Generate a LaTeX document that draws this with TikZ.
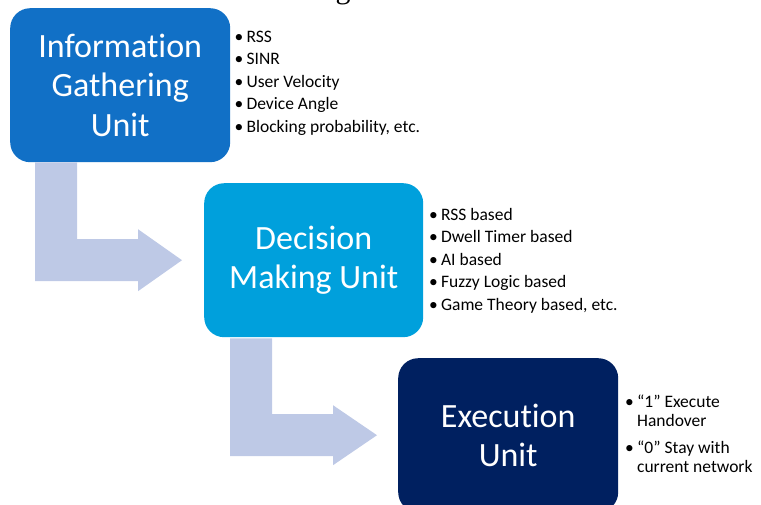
\documentclass[tikz,border=0pt]{standalone}
\usepackage{fontspec}
\setmainfont{Carlito}[Ligatures=NoCommon]
\newfontfamily\headserif{Liberation Serif}
\usetikzlibrary{calc}
\definecolor{gatherblue}{RGB}{17,112,198}
\definecolor{decideblue}{RGB}{0,160,220}
\definecolor{execnavy}{RGB}{0,32,96}
\definecolor{flowarrow}{RGB}{190,201,230}
\newcommand\listdot{\makebox[12pt][l]{\textbullet}}
\begin{document}
\begin{tikzpicture}[x=1pt,y=-1pt,
  unitbox/.style={rounded corners=20pt, minimum width=220pt, minimum height=154pt,
    inner sep=0pt, anchor=north west, align=center, text=white,
    font=\fontsize{34}{39.5}\selectfont},
  notes/.style={anchor=base west, inner sep=0pt, font=\fontsize{17.5}{22.5}\selectfont},
  bend arrow/.style={fill=flowarrow, draw=none}]
\useasboundingbox (0,0) rectangle (761,504);
\clip (0,0) rectangle (761,504);

% heading line above the figure (only its descender shows)
\node[font=\headserif\fontsize{30}{30}\selectfont, anchor=base, inner sep=0pt] (head) at (343,-2) {g};

% the three stages
\node[unitbox, fill=gatherblue] (gather) at (10,8) {Information\\Gathering\\Unit};
\node[unitbox, fill=decideblue, minimum width=219pt] (decide) at (204,183) {Decision\\Making Unit};
\node[unitbox, fill=execnavy] (exec) at (398,358) {Execution\\Unit};

% bent block arrow: gathering -> decision
\coordinate (a1) at ($(gather.south west)+(25,0)$);
\coordinate (a2) at ($(gather.south west)+(67,0)$);
\coordinate (a3) at ($(decide.west)+(-66,-21)$);
\coordinate (a4) at ($(decide.west)+(-66,-31)$);
\coordinate (a5) at ($(decide.west)+(-22,0)$);
\coordinate (a6) at ($(decide.west)+(-66,31)$);
\coordinate (a7) at ($(decide.west)+(-66,21)$);
\fill[bend arrow] (a1) -- (a2) -- (a2 |- a3) -- (a3) -- (a4) -- (a5) -- (a6) -- (a7) -- (a1 |- a7) -- cycle;

% bent block arrow: decision -> execution
\coordinate (b1) at ($(decide.south west)+(26,1)$);
\coordinate (b2) at ($(decide.south west)+(68,1)$);
\coordinate (b3) at ($(exec.west)+(-65,-21)$);
\coordinate (b4) at ($(exec.west)+(-65,-30)$);
\coordinate (b5) at ($(exec.west)+(-21,0)$);
\coordinate (b6) at ($(exec.west)+(-65,30)$);
\coordinate (b7) at ($(exec.west)+(-65,21)$);
\fill[bend arrow] (b1) -- (b2) -- (b2 |- b3) -- (b3) -- (b4) -- (b5) -- (b6) -- (b7) -- (b1 |- b7) -- cycle;

% bullet notes beside each stage
\node[notes] (gathernotes) at ($(gather.north east)+(4,34)$) {%
  \begin{tabular}[t]{@{}l@{}}
  \listdot RSS\\
  \listdot SINR\\
  \listdot User Velocity\\
  \listdot Device Angle\\
  \listdot Blocking probability, etc.
  \end{tabular}};
\node[notes] (decidenotes) at ($(decide.north east)+(5.5,37)$) {%
  \begin{tabular}[t]{@{}l@{}}
  \listdot RSS based\\
  \listdot Dwell Timer based\\
  \listdot AI based\\
  \listdot Fuzzy Logic based\\
  \listdot Game Theory based, etc.
  \end{tabular}};
\node[notes, font=\fontsize{17.5}{19.5}\selectfont] (execnotes) at ($(exec.north east)+(6.5,49)$) {%
  \begin{tabular}[t]{@{}l@{}}
  \listdot “1” Execute\\
  \hspace*{12pt}Handover\\[7pt]
  \listdot “0” Stay with\\
  \hspace*{12pt}current network
  \end{tabular}};
\end{tikzpicture}
\end{document}
